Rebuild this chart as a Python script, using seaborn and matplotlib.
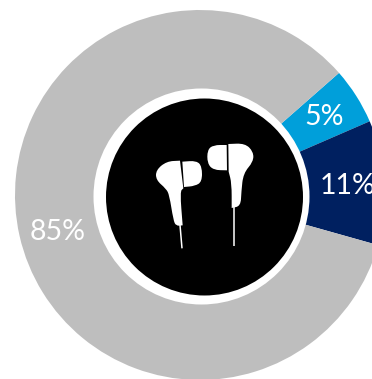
import matplotlib
matplotlib.use("Agg")
import matplotlib.pyplot as plt
import seaborn as sns
from matplotlib.patches import Circle, PathPatch
from matplotlib.path import Path

# Share of each segment, clockwise from the upper right
segments = ["Light blue", "Navy", "Grey"]
shares = [5, 11, 85]
labels = ["5%", "11%", "85%"]
colours = ["#009FDA", "#002060", "#BEBEBE"]

W, H = 372, 379
sns.set_theme(style="white")
plt.rcParams["font.family"] = ["Lato", "DejaVu Sans"]

fig = plt.figure(figsize=(W / 100, H / 100), dpi=100, facecolor="white")
ax = fig.add_axes([0, 0, 1, 1])

ax.pie(
    shares,
    colors=sns.color_palette(colours),
    startangle=41.3,
    counterclock=False,
    radius=185,
    center=(200, H - 195),
    normalize=True,
    frame=True,
    wedgeprops={"linewidth": 0, "edgecolor": "none"},
)
ax.set_xlim(0, W)
ax.set_ylim(0, H)
ax.set_aspect("equal")
ax.axis("off")

# White gap and black disc in the middle of the ring
ax.add_patch(Circle((201.5, H - 196.5), 108, fc="white", ec="none", zorder=3))
ax.add_patch(Circle((204.5, H - 197), 98.5, fc="black", ec="none", zorder=4))

label_pos = [(324.5, 117), (320, 186), (58, 232)]
label_align = ["center", "left", "center"]
for text, (x, y), align in zip(labels, label_pos, label_align):
    ax.text(x, H - y, text, color="white", fontsize=20.5,
            ha=align, va="center", zorder=5)


def to_canvas(points):
    # Icon outlines are noted in a 3x grid anchored at (130, 120)
    return [(130 + x / 3, H - (120 + y / 3)) for x, y in points]


def smooth_shape(points):
    # Closed quadratic outline running through the midpoints of the control polygon
    pts = to_canvas(points)
    n = len(pts)
    mid = lambda a, b: ((a[0] + b[0]) / 2, (a[1] + b[1]) / 2)
    verts = [mid(pts[-1], pts[0])]
    codes = [Path.MOVETO]
    for i in range(n):
        verts += [pts[i], mid(pts[i], pts[(i + 1) % n])]
        codes += [Path.CURVE3, Path.CURVE3]
    return Path(verts, codes)


bud_outlines = [
    # left earbud: body, then tip
    [(150, 122), (150, 122), (110, 124), (78, 150), (78, 180), (108, 206), (118, 225),
     (130, 300), (138, 318), (158, 316), (158, 316), (150, 215), (160, 205), (160, 205)],
    [(157, 125), (157, 125), (200, 122), (216, 140), (216, 185), (195, 198), (162, 201), (162, 201)],
    # right earbud: tip, then body
    [(290, 75), (290, 75), (250, 75), (232, 90), (232, 130), (250, 150), (291, 151), (291, 151)],
    [(295, 72), (295, 72), (345, 70), (370, 95), (370, 125), (340, 160), (334, 215),
     (332, 258), (305, 264), (305, 264), (305, 190), (296, 155), (296, 155)],
]
for outline in bud_outlines:
    ax.add_patch(PathPatch(smooth_shape(outline), fc="white", ec="none", zorder=6))

# Thin cables below each earbud
for (x0, y0), (x1, y1) in [
    to_canvas([(150, 315), (156, 385)]),
    to_canvas([(312, 262), (312, 379)]),
]:
    ax.plot([x0, x1], [y0, y1], color="white", lw=1.1, zorder=6, solid_capstyle="butt")

fig.savefig("out.png", dpi=100, facecolor="white")
